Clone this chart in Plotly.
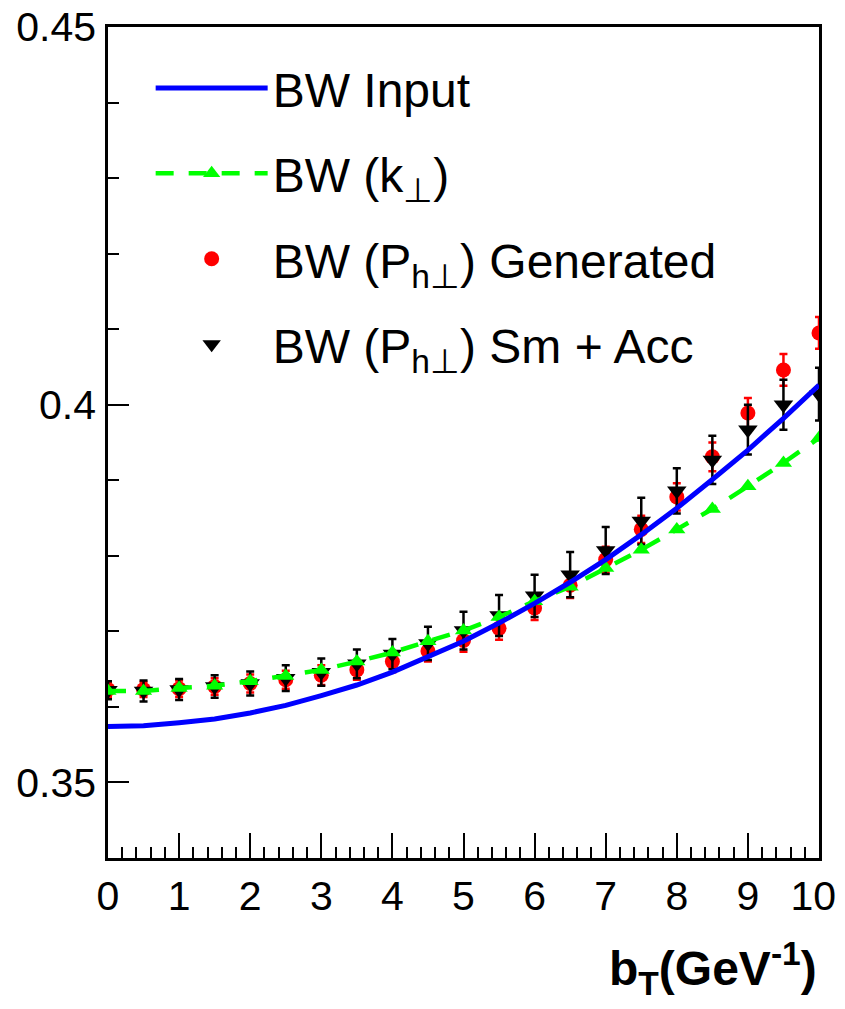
import plotly.graph_objects as go

# ---- data ----
bT = [0, 0.5, 1, 1.5, 2, 2.5, 3, 3.5, 4, 4.5, 5, 5.5, 6, 6.5, 7, 7.5, 8, 8.5, 9, 9.5, 10]

bw_input = [0.3574, 0.3575, 0.3579, 0.3584, 0.3592, 0.3602, 0.3615, 0.3629, 0.3646, 0.3666,
            0.3687, 0.3711, 0.3737, 0.3765, 0.3795, 0.3828, 0.3863, 0.3901, 0.3940, 0.3982, 0.4026]

bw_kt = [0.3621, 0.3621, 0.3625, 0.3628, 0.3634, 0.3641, 0.3649, 0.3660, 0.3672, 0.3687,
         0.3701, 0.3719, 0.3740, 0.3759, 0.3784, 0.3808, 0.3835, 0.3862, 0.3892, 0.3923, 0.3956]

bw_gen = [0.3623, 0.3623, 0.3624, 0.3627, 0.3631, 0.3636, 0.3642, 0.3649, 0.3660, 0.3674,
          0.3688, 0.3704, 0.3731, 0.3761, 0.3795, 0.3835, 0.3878, 0.3931, 0.3989, 0.4046, 0.4095]
bw_gen_err = [0.0010, 0.0010, 0.0011, 0.0011, 0.0012, 0.0012, 0.0013, 0.0013, 0.0014, 0.0014,
              0.0015, 0.0015, 0.0016, 0.0017, 0.0017, 0.0018, 0.0018, 0.0019, 0.0020, 0.0021, 0.0021]

bw_smacc = [0.3622, 0.3621, 0.3623, 0.3627, 0.3631, 0.3638, 0.3646, 0.3657, 0.3670, 0.3684,
            0.3701, 0.3721, 0.3747, 0.3775, 0.3807, 0.3846, 0.3886, 0.3927, 0.3967, 0.4000, 0.4014]
bw_smacc_err = [0.0012, 0.0014, 0.0014, 0.0015, 0.0016, 0.0017, 0.0018, 0.0019, 0.0020, 0.0022,
                0.0025, 0.0027, 0.0028, 0.0030, 0.0031, 0.0031, 0.0030, 0.0032, 0.0033, 0.0033, 0.0035]

x_tickvals = [0, 1, 2, 3, 4, 5, 6, 7, 8, 9, 10]
x_ticktext = ["0", "1", "2", "3", "4", "5", "6", "7", "8", "9", "10\u00a0"]

names = ["BW Input", "BW (k<sub>⊥</sub>)", "BW (P<sub>h⊥</sub>) Generated", "BW (P<sub>h⊥</sub>) Sm + Acc"]

FONT = "Liberation Sans, Arial, Helvetica, sans-serif"

fig = go.Figure()

fig.add_trace(go.Scatter(
    x=bT, y=bw_gen, mode="markers", name=names[2], legendrank=3, legendgroup="c",
    marker=dict(symbol="circle", size=15, color="#ff0000"),
    error_y=dict(type="data", array=bw_gen_err, color="#ff0000", thickness=2.5, width=4),
))
fig.add_trace(go.Scatter(
    x=bT, y=bw_smacc, mode="markers", name=names[3], legendrank=4, legendgroup="d",
    marker=dict(symbol="triangle-down", size=17, color="#000000"),
    error_y=dict(type="data", array=bw_smacc_err, color="#000000", thickness=2.5, width=4),
))
fig.add_trace(go.Scatter(
    x=bT, y=bw_kt, mode="lines+markers", name=names[1], legendrank=2, legendgroup="b",
    line=dict(color="#00ff00", width=4.5, dash="18px,15px"),
    marker=dict(symbol="triangle-up", size=15, color="#00ff00"),
))
fig.add_trace(go.Scatter(
    x=bT, y=bw_input, mode="lines", name=names[0], legendrank=1, legendgroup="a",
    line=dict(color="#0000ff", width=5),
))

axis_common = dict(
    showline=True, linecolor="black", linewidth=2.5, mirror=True,
    ticks="inside", tickcolor="black", tickwidth=2,
    showgrid=False, zeroline=False, automargin=False, ticklabeloverflow="allow",
    tickfont=dict(family=FONT, size=41, color="black"),
)

fig.update_xaxes(
    range=[0, 10], tickmode="array", tickvals=x_tickvals, ticktext=x_ticktext,
    ticklen=25, ticklabelstandoff=0,
    minor=dict(tickmode="linear", tick0=0, dtick=0.2, ticks="inside", ticklen=11,
               tickcolor="black", tickwidth=2, showgrid=False),
    **axis_common,
)
fig.update_yaxes(
    range=[0.34, 0.45], tick0=0.35, dtick=0.05, ticklen=21, ticklabelstandoff=1,
    minor=dict(dtick=0.01, ticks="inside", ticklen=11, tickcolor="black", tickwidth=2, showgrid=False),
    **axis_common,
)

fig.add_annotation(
    text="<b>b<sub>T</sub>(GeV<sup>-1</sup>)</b>", xref="paper", yref="paper",
    x=1.0, y=-0.133, xanchor="right", yanchor="middle", showarrow=False,
    font=dict(family=FONT, size=48, color="black"),
)

fig.update_layout(
    width=829, height=993,
    margin=dict(l=100, r=18, t=19, b=143),
    paper_bgcolor="white", plot_bgcolor="white",
    font=dict(family=FONT, color="black"),
    showlegend=True,
    legend=dict(
        x=0.06, y=0.972, xanchor="left", yanchor="top",
        bgcolor="rgba(0,0,0,0)", borderwidth=0,
        font=dict(family=FONT, size=48, color="black"),
        tracegroupgap=20, itemsizing="trace", itemwidth=112,
    ),
)

fig.write_html("out.html")
